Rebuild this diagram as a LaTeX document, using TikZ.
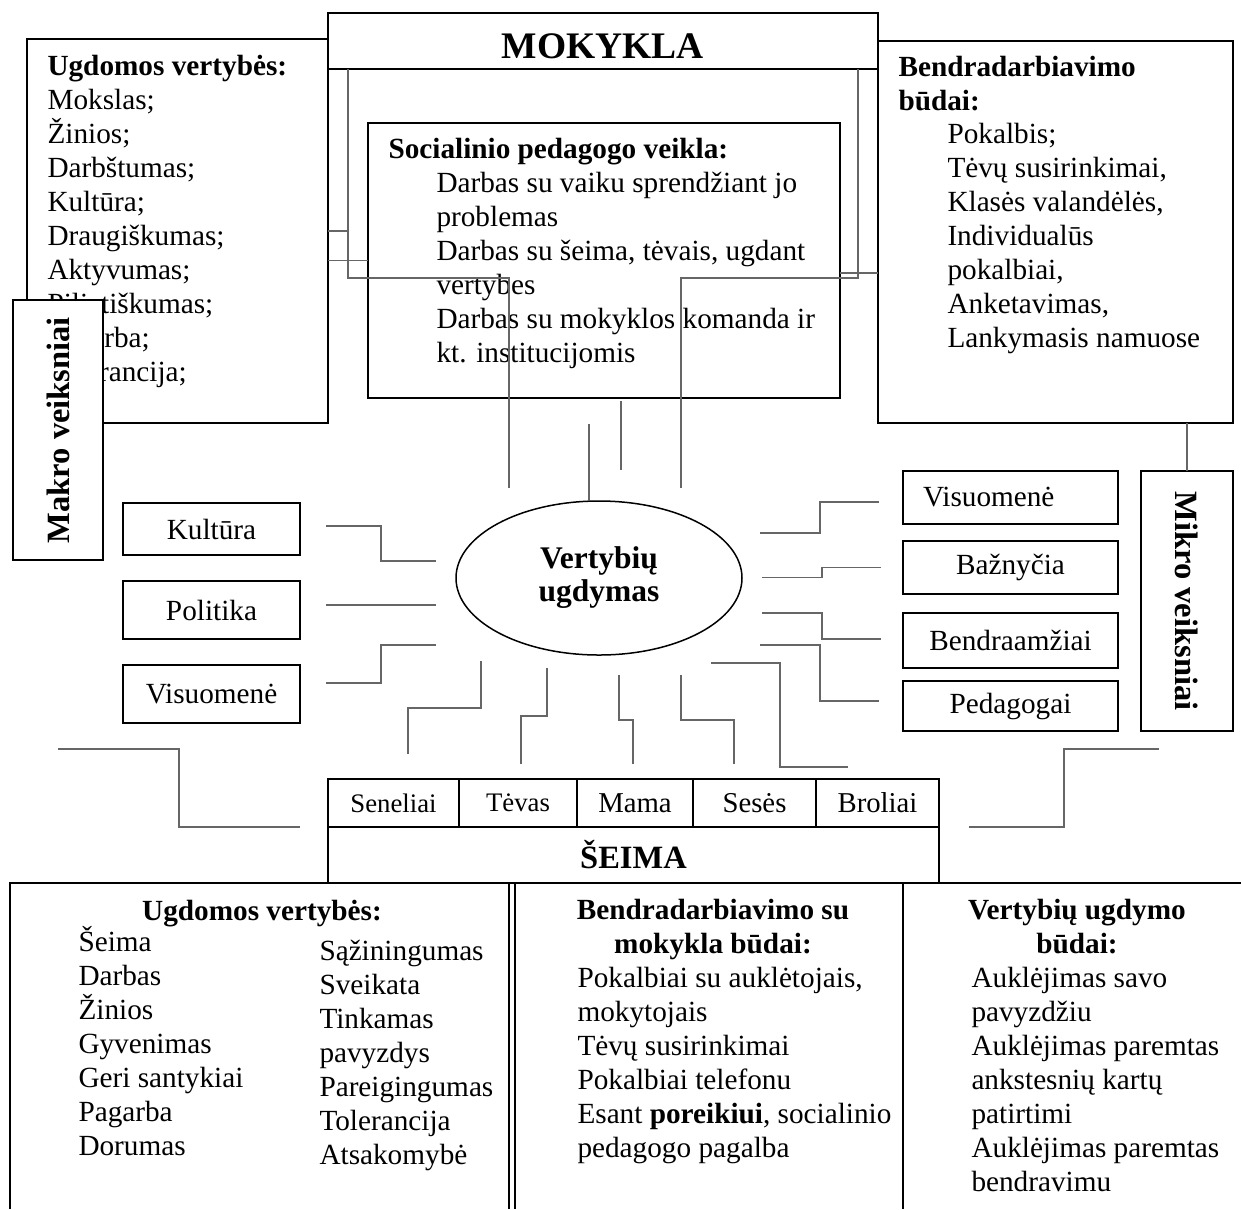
\documentclass[tikz,border=0pt]{standalone}
\usepackage{fontspec}
\setmainfont{Liberation Serif}
\usetikzlibrary{shapes.geometric}

\begin{document}
\begin{tikzpicture}
[x=0.4pt,y=-0.4pt
,frm/.style={draw,line width=0.8pt,inner sep=0pt,outer sep=0pt}
,sbox/.style={frm,minimum width=70.8pt,font=\fontsize{11.7}{13.6}\selectfont}
,rbox/.style={frm,minimum width=86pt,font=\fontsize{11.7}{13.6}\selectfont}
,cell/.style={frm,minimum height=19.2pt,font=\fontsize{11.5}{13}\selectfont}
,txt/.style={inner sep=0pt,align=left,anchor=base west,font=\fontsize{11.7}{13.6}\selectfont}
,hd/.style={txt,font=\bfseries\fontsize{11.7}{13.6}\selectfont}
,side/.style={frm,fill=white,minimum width=104pt,font=\bfseries\fontsize{13}{15}\selectfont}
,ln/.style={draw=black!60,line width=0.45pt}
]
\useasboundingbox (0,0) rectangle (1241,1209);

% school (multi-line texts sit on their last baseline)
\node[frm,minimum width=220pt,minimum height=22.4pt] (mok) at (603,41) {};
\node[anchor=base,inner sep=0pt,font=\bfseries\fontsize{15}{17}\selectfont] (mokt) at (603,58) {MOKYKLA};
\node[frm,anchor=north west,minimum width=120.4pt,minimum height=153.6pt] (ugd) at (27,39) {};
\node[hd] (ugdh) at (47,75) {Ugdomos vertybės:};
\node[txt] (ugdt) at (47,381) {Mokslas;\\Žinios;\\Darbštumas;\\Kultūra;\\Draugiškumas;\\Aktyvumas;\\Pilietiškumas;\\Pagarba;\\Tolerancija;};
\node[frm,anchor=north west,minimum width=142pt,minimum height=152.8pt] (bend) at (878,41) {};
\node[hd] (bendh) at (898,110) {Bendradarbiavimo\\būdai:};
\node[txt] (bendt) at (947,347) {Pokalbis;\\Tėvų susirinkimai,\\Klasės valandėlės,\\Individualūs\\pokalbiai,\\Anketavimas,\\Lankymasis namuose};
\node[frm,anchor=north west,minimum width=188.8pt,minimum height=110pt] (soc) at (368,123) {};
\node[hd] (soch) at (388,158) {Socialinio pedagogo veikla:};
\node[txt] (soct) at (436,362) {Darbas su vaiku sprendžiant jo\\problemas\\Darbas su šeima, tėvais, ugdant\\vertybes\\Darbas su mokyklos komanda ir\\kt. institucijomis};

% factors
\node[side,rotate=90,minimum height=36pt] (makro) at (58,430) {Makro veiksniai};
\node[side,rotate=-90,minimum height=36.8pt] (mikro) at (1187,601) {Mikro veiksniai};
\node[sbox,minimum height=20.8pt] (kult) at (211.5,529) {Kultūra};
\node[sbox,minimum height=23.2pt] (pol) at (211.5,610) {Politika};
\node[sbox,minimum height=23.2pt] (visk) at (211.5,694) {Visuomenė};
\node[rbox,minimum height=21.2pt,text width=70pt,inner xsep=8pt,align=left] (visr) at (1010.5,497.5) {Visuomenė};
\node[rbox,minimum height=21.2pt] (baz) at (1010.5,567.5) {Bažnyčia};
\node[rbox,minimum height=22pt] (bam) at (1010.5,640.5) {Bendraamžiai};
\node[rbox,minimum height=20pt] (ped) at (1010.5,706) {Pedagogai};
\node[ellipse,draw,line width=0.6pt,minimum width=114.4pt,minimum height=61.6pt,inner sep=0pt,align=center,font=\bfseries\fontsize{12.6}{13.2}\selectfont] (ell) at (599,578) {Vertybių\\ugdymas};

% family
\node[cell,minimum width=52.4pt,font=\fontsize{10.7}{12}\selectfont] (sen) at (393.5,803) {Seneliai};
\node[cell,minimum width=47.2pt,font=\fontsize{10.7}{12}\selectfont] (tev) at (518,803) {Tėvas};
\node[cell,minimum width=46.4pt] (mam) at (635,803) {Mama};
\node[cell,minimum width=49.2pt] (ses) at (754.5,803) {Sesės};
\node[cell,minimum width=49.2pt] (bro) at (877.5,803) {Broliai};
\node[frm,line width=0.6pt,minimum width=244.4pt,minimum height=22.4pt] (seima) at (633.5,855) {};
\node[anchor=base,inner sep=0pt,font=\bfseries\fontsize{13}{15}\selectfont] (seimat) at (633.5,868) {ŠEIMA};

% bottom panels
\draw[line width=0.8pt] (10,1209) -- (10,883) -- (1241,883);
\draw[line width=0.5pt] (509,883) -- (509,1209);
\draw[line width=0.8pt] (515,883) -- (515,1209);
\draw[line width=0.8pt] (903,883) -- (903,1209);
\node[hd,anchor=base] (p1h) at (262,920) {Ugdomos vertybės:};
\node[txt] (p1a) at (78,1155) {Šeima\\Darbas\\Žinios\\Gyvenimas\\Geri santykiai\\Pagarba\\Dorumas};
\node[txt] (p1b) at (319,1164) {Sąžiningumas\\Sveikata\\Tinkamas\\pavyzdys\\Pareigingumas\\Tolerancija\\Atsakomybė};
\node[hd,anchor=base,align=center] (p2h) at (713,953) {Bendradarbiavimo su\\mokykla būdai:};
\node[txt] (p2t) at (577,1157) {Pokalbiai su auklėtojais,\\mokytojais\\Tėvų susirinkimai\\Pokalbiai telefonu\\Esant \textbf{poreikiui}, socialinio\\pedagogo pagalba};
\node[hd,anchor=base,align=center] (p3h) at (1077,953) {Vertybių ugdymo\\būdai:};
\node[txt] (p3t) at (971,1191) {Auklėjimas savo\\pavyzdžiu\\Auklėjimas paremtas\\ankstesnių kartų\\patirtimi\\Auklėjimas paremtas\\bendravimu};

% links round the school
\draw[ln] (mok.south west) ++(20,0) -- ++(0,209) -- ++(161,0) -- ++(0,210);
\draw[ln] (mok.south east) ++(-20,0) -- ++(0,209) -- ++(-177,0) -- ++(0,210);
\draw[ln] (ugd.east) -- ++(20,0);
\draw[ln] (ugd.east |- soc.west) -- (soc.west);
\draw[ln] ([yshift=-5pt]soc.east) -- ([yshift=-5pt]soc.east -| bend.west);
\draw[ln] (soc.south) ++(17,3) -- ++(0,69);
\draw[ln] ([xshift=-4pt]ell.north) -- ++(0,-76);
\draw[ln] (mikro.west) -- (mikro.west |- bend.south);

% left factors
\draw[ln] (kult.east) ++(26,-3) -- ++(55,0) -- ++(0,35) -- ++(55,0);
\draw[ln] (pol.east) ++(26,-5) -- ++(110,0);
\draw[ln] (visk.east) ++(26,-11) -- ++(55,0) -- ++(0,-38) -- ++(55,0);

% right factors
\draw[ln] (visr.west) ++(-24,4.5) -- ++(-59,0) -- ++(0,31) -- ++(-60,0);
\draw[ln] (baz.west) ++(-22,0) -- ++(-59,0) -- ++(0,10) -- ++(-60,0);
\draw[ln] (bam.west) ++(-22,-1.5) -- ++(-59,0) -- ++(0,-26) -- ++(-60,0);
\draw[ln] (ped.west) ++(-24,-5) -- ++(-59,0) -- ++(0,-56) -- ++(-60,0);

% family links
\draw[ln] (sen.north) ++(14.5,-25) -- ++(0,-46) -- ++(73,0) -- ++(0,-47);
\draw[ln] (tev.north) ++(3,-15) -- ++(0,-48) -- ++(26,0) -- ++(0,-48);
\draw[ln] (mam.north) ++(-2,-15) -- ++(0,-44) -- ++(-14,0) -- ++(0,-45);
\draw[ln] (ses.north) ++(-20.5,-15) -- ++(0,-44) -- ++(-53,0) -- ++(0,-45);
\draw[ln] (bro.north) ++(-29.5,-12) -- ++(-68,0) -- ++(0,-104) -- ++(-69,0);
\draw[ln] (sen.south west) ++(-28,0) -- ++(-121,0) -- ++(0,-78) -- ++(-121,0);
\draw[ln] (bro.south east) ++(30,0) -- ++(95,0) -- ++(0,-78) -- ++(95,0);
\end{tikzpicture}
\end{document}
